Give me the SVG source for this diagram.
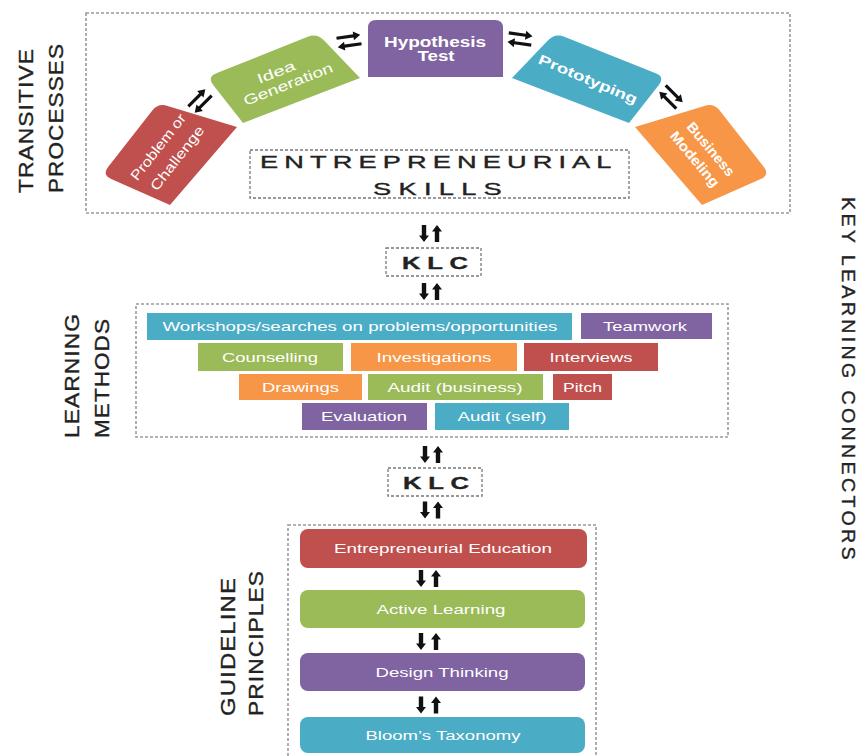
<svg xmlns="http://www.w3.org/2000/svg" width="862" height="756" viewBox="0 0 862 756">
  <style>
    .frame { fill: none; stroke: #9a9a9a; stroke-width: 1.6; stroke-dasharray: 3 2; }
    .dframe { fill: none; stroke: #777; stroke-width: 1.3; stroke-dasharray: 3 2; }
    .lbl { font-family: "Liberation Sans", Arial, sans-serif; fill: #222; stroke: #222; stroke-width: 0.35; }
    .wt { font-family: "Liberation Sans", Arial, sans-serif; fill: #fff; font-size: 13px; text-anchor: middle; }
    .wb { font-family: "Liberation Sans", Arial, sans-serif; fill: #fff; font-size: 14px; font-weight: bold; text-anchor: middle; }
    .wr { font-family: "Liberation Sans", Arial, sans-serif; fill: #fff; font-size: 14px; text-anchor: middle; }
    .red { fill: #C0504D; }
    .grn { fill: #9BBB59; }
    .pur { fill: #8064A2; }
    .teal { fill: #4BACC6; }
    .org { fill: #F79646; }
    .arw { fill: #111; }
  </style>
  <defs>
    <!-- bold vertical arrow pointing up -->
    <path id="au" d="M0,-8.5 L5,-2 L2.2,-2 L2.2,8.5 L-2.2,8.5 L-2.2,-2 L-5,-2 Z"/>
    <!-- pair of opposing horizontal arrows -->
    <g id="pr">
      <path d="M12,-4.5 L5,-9 L5,-6.1 L-12,-6.1 L-12,-2.9 L5,-2.9 L5,0 Z"/>
      <path d="M-12,4.5 L-5,0 L-5,2.9 L12,2.9 L12,6.1 L-5,6.1 L-5,9 Z"/>
    </g>
  </defs>

  <!-- side labels -->
  <g id="labels" class="lbl">
    <text transform="translate(33,193) rotate(-90)" font-size="21" letter-spacing="1" textLength="145" lengthAdjust="spacingAndGlyphs">TRANSITIVE</text>
    <text transform="translate(63,193) rotate(-90)" font-size="21" letter-spacing="1" textLength="150" lengthAdjust="spacingAndGlyphs">PROCESSES</text>
    <text transform="translate(79,438) rotate(-90)" font-size="21" letter-spacing="1" textLength="125" lengthAdjust="spacingAndGlyphs">LEARNING</text>
    <text transform="translate(109,438) rotate(-90)" font-size="21" letter-spacing="1" textLength="120" lengthAdjust="spacingAndGlyphs">METHODS</text>
    <text transform="translate(235,716) rotate(-90)" font-size="21" letter-spacing="1" textLength="139" lengthAdjust="spacingAndGlyphs">GUIDELINE</text>
    <text transform="translate(263,716) rotate(-90)" font-size="21" letter-spacing="1" textLength="146" lengthAdjust="spacingAndGlyphs">PRINCIPLES</text>
    <text transform="translate(842,197) rotate(90)" font-size="18" letter-spacing="3" textLength="366" lengthAdjust="spacingAndGlyphs">KEY LEARNING CONNECTORS</text>
  </g>

  <!-- frames -->
  <g id="frames">
    <rect class="frame" x="86" y="13" width="704" height="200"/>
    <rect class="frame" x="136" y="304" width="592" height="133"/>
    <rect class="frame" x="288" y="525" width="308" height="240"/>
  </g>

  <!-- transitive processes arc -->
  <g id="problem">
    <path class="red" d="M167.6,105.9 L237,127 L170,205 L111.2,179 Q102,175 108.1,167.1 L151.9,110.9 Q158,103 167.6,105.9 Z"/>
    <text class="wr" transform="translate(158,147) rotate(-52)" y="5" textLength="80" lengthAdjust="spacingAndGlyphs">Problem or</text>
    <text class="wr" transform="translate(177,158) rotate(-52)" y="5" textLength="78" lengthAdjust="spacingAndGlyphs">Challenge</text>
  </g>
  <g id="idea">
    <path class="grn" d="M216.3,73.3 L307.7,36.7 Q317,33 323.9,40.2 L360,78 L243,123 L213.2,84.9 Q207,77 216.3,73.3 Z"/>
    <text class="wr" transform="translate(276,72) rotate(-21.5)" y="5" textLength="40" lengthAdjust="spacingAndGlyphs">Idea</text>
    <text class="wr" transform="translate(288,84) rotate(-21.5)" y="5" textLength="95" lengthAdjust="spacingAndGlyphs">Generation</text>
  </g>
  <g id="hypothesis">
    <path class="pur" d="M368,77 L368,28 Q368,20 376,20 L495,20 Q503,20 503,28 L503,77 Z"/>
    <text class="wb" x="435" y="46.5" font-size="13" textLength="102" lengthAdjust="spacingAndGlyphs">Hypothesis</text>
    <text class="wb" x="436" y="61" font-size="13" textLength="37" lengthAdjust="spacingAndGlyphs">Test</text>
  </g>
  <g id="prototyping">
    <path class="teal" d="M655.7,73.3 L564.3,36.7 Q555,33 548.1,40.2 L512,78 L629,123 L658.8,84.9 Q665,77 655.7,73.3 Z"/>
    <text class="wb" transform="translate(588,79) rotate(23)" y="5" textLength="106" lengthAdjust="spacingAndGlyphs">Prototyping</text>
  </g>
  <g id="business">
    <path class="org" d="M704.4,105.9 L635,127 L702,205 L760.8,179 Q770,175 763.9,167.1 L720.1,110.9 Q714,103 704.4,105.9 Z"/>
    <text class="wb" transform="translate(711,149) rotate(50)" y="5" textLength="66" lengthAdjust="spacingAndGlyphs">Business</text>
    <text class="wb" transform="translate(695,159) rotate(50)" y="5" textLength="68" lengthAdjust="spacingAndGlyphs">Modeling</text>
  </g>
  <g id="skills">
    <rect class="dframe" x="250" y="150" width="379" height="48"/>
    <text class="lbl" transform="translate(260,167.5) scale(1.7,1)" font-size="16" letter-spacing="3.6">ENTREPRENEURIAL</text>
    <text class="lbl" transform="translate(373,194.5) scale(1.7,1)" font-size="16" letter-spacing="4.3">SKILLS</text>
  </g>

  <!-- key learning connectors -->
  <g id="klc1">
    <rect class="dframe" x="386" y="248" width="95" height="28"/>
    <text class="lbl" transform="translate(402,268.5) scale(1.6,1)" font-size="16" font-weight="bold" letter-spacing="4.2">KLC</text>
  </g>
  <g id="klc2">
    <rect class="dframe" x="388" y="468" width="94" height="28"/>
    <text class="lbl" transform="translate(403,488.5) scale(1.6,1)" font-size="16" font-weight="bold" letter-spacing="4.2">KLC</text>
  </g>

  <!-- learning methods -->
  <g id="methods">
    <g id="m-workshops"><rect class="teal" x="147" y="313" width="425" height="27"/><text class="wt" x="360" y="331" textLength="395" lengthAdjust="spacingAndGlyphs">Workshops/searches on problems/opportunities</text></g>
    <g id="m-teamwork"><rect class="pur" x="581" y="313" width="131" height="26"/><text class="wt" x="645" y="331" textLength="84" lengthAdjust="spacingAndGlyphs">Teamwork</text></g>
    <g id="m-counselling"><rect class="grn" x="198" y="343" width="145" height="28"/><text class="wt" x="270" y="361.5" textLength="96" lengthAdjust="spacingAndGlyphs">Counselling</text></g>
    <g id="m-investigations"><rect class="org" x="351" y="343" width="166" height="28"/><text class="wt" x="434" y="361.5" textLength="115" lengthAdjust="spacingAndGlyphs">Investigations</text></g>
    <g id="m-interviews"><rect class="red" x="524" y="343" width="134" height="28"/><text class="wt" x="591" y="361.5" textLength="83" lengthAdjust="spacingAndGlyphs">Interviews</text></g>
    <g id="m-drawings"><rect class="org" x="239" y="374" width="123" height="26"/><text class="wt" x="300.5" y="391.5" textLength="77" lengthAdjust="spacingAndGlyphs">Drawings</text></g>
    <g id="m-audit-business"><rect class="grn" x="368" y="374" width="175" height="26"/><text class="wt" x="455" y="391.5" textLength="135" lengthAdjust="spacingAndGlyphs">Audit (business)</text></g>
    <g id="m-pitch"><rect class="red" x="553" y="374" width="59" height="26"/><text class="wt" x="582.5" y="391.5" textLength="39" lengthAdjust="spacingAndGlyphs">Pitch</text></g>
    <g id="m-evaluation"><rect class="pur" x="302" y="403" width="125" height="27"/><text class="wt" x="364" y="421" textLength="86" lengthAdjust="spacingAndGlyphs">Evaluation</text></g>
    <g id="m-audit-self"><rect class="teal" x="435" y="403" width="134" height="27"/><text class="wt" x="502" y="421" textLength="89" lengthAdjust="spacingAndGlyphs">Audit (self)</text></g>
  </g>

  <!-- guideline principles -->
  <g id="entrepreneurial-education"><rect class="red" x="300" y="529" width="287" height="39" rx="8"/><text class="wt" x="443" y="553" textLength="218" lengthAdjust="spacingAndGlyphs">Entrepreneurial Education</text></g>
  <g id="active-learning"><rect class="grn" x="300" y="590" width="285" height="38" rx="8"/><text class="wt" x="441" y="613.5" textLength="129" lengthAdjust="spacingAndGlyphs">Active Learning</text></g>
  <g id="design-thinking"><rect class="pur" x="300" y="653" width="285" height="38" rx="8"/><text class="wt" x="442" y="676.5" textLength="133" lengthAdjust="spacingAndGlyphs">Design Thinking</text></g>
  <g id="blooms-taxonomy"><rect class="teal" x="300" y="717" width="285" height="36" rx="8"/><text class="wt" x="443" y="740" textLength="155" lengthAdjust="spacingAndGlyphs">Bloom’s Taxonomy</text></g>

  <!-- connectors -->
  <g id="connectors" class="arw">
    <use href="#pr" transform="translate(200,101) rotate(-45)"/>
    <use href="#pr" transform="translate(349,41) rotate(-8)"/>
    <use href="#pr" transform="translate(520,39) rotate(8)"/>
    <use href="#pr" transform="translate(671,97) rotate(45)"/>

    <use href="#au" transform="translate(424,233.5) rotate(180)"/>
    <use href="#au" transform="translate(437,233.5)"/>
    <use href="#au" transform="translate(424,291.5) rotate(180)"/>
    <use href="#au" transform="translate(437,291.5)"/>

    <use href="#au" transform="translate(425,454.5) rotate(180)"/>
    <use href="#au" transform="translate(438,454.5)"/>
    <use href="#au" transform="translate(425,510) rotate(180)"/>
    <use href="#au" transform="translate(438,510)"/>

    <use href="#au" transform="translate(421,578.5) rotate(180)"/>
    <use href="#au" transform="translate(436,578.5)"/>
    <use href="#au" transform="translate(421,641.5) rotate(180)"/>
    <use href="#au" transform="translate(436,641.5)"/>
    <use href="#au" transform="translate(421,705) rotate(180)"/>
    <use href="#au" transform="translate(436,705)"/>
  </g>
</svg>
